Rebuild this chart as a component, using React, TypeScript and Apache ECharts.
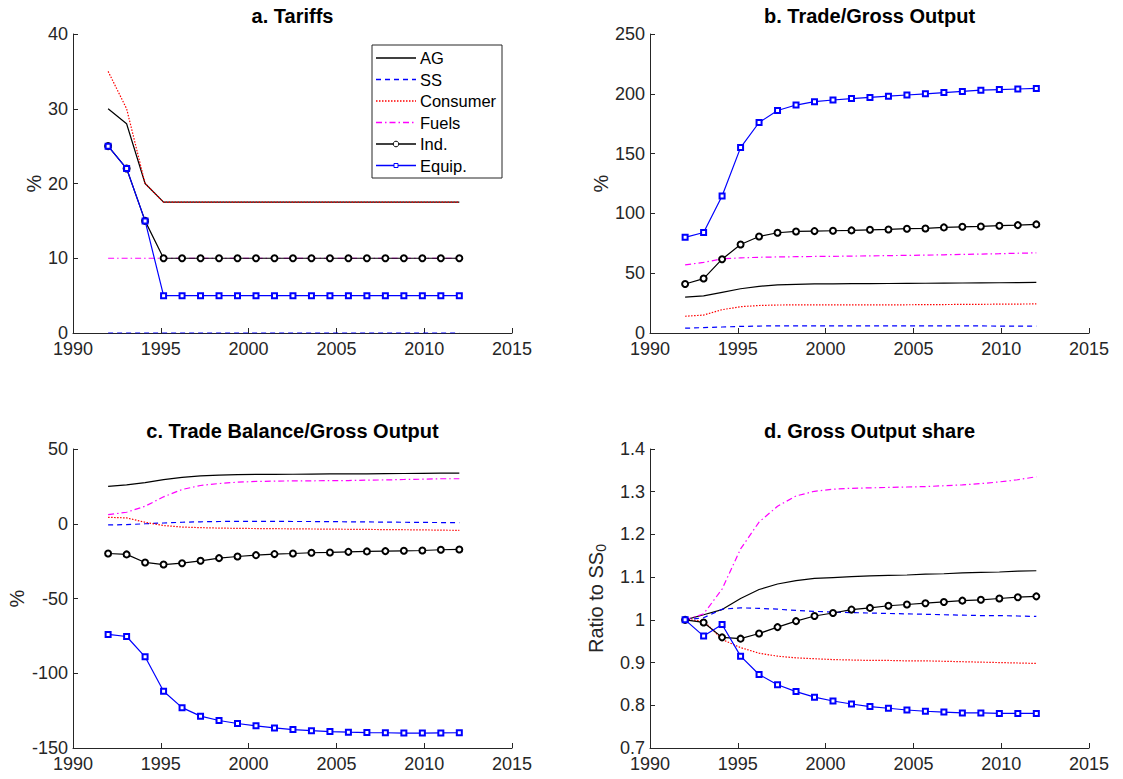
import React, { useEffect, useRef } from 'react';
import * as echarts from 'echarts';

// x positions of the 20 model periods (1992 .. 2012)
const years = [1992, 1993.053, 1994.105, 1995.158, 1996.211, 1997.263, 1998.316, 1999.368, 2000.421, 2001.474,
  2002.526, 2003.579, 2004.632, 2005.684, 2006.737, 2007.789, 2008.842, 2009.895, 2010.947, 2012];

const seriesNames = ['AG', 'SS', 'Consumer', 'Fuels', 'Ind.', 'Equip.'];

// a. Tariffs
const tariffAG = [30, 28, 20, 17.5, 17.5, 17.5, 17.5, 17.5, 17.5, 17.5, 17.5, 17.5, 17.5, 17.5, 17.5, 17.5, 17.5, 17.5, 17.5, 17.5];
const tariffSS = [0, 0, 0, 0, 0, 0, 0, 0, 0, 0, 0, 0, 0, 0, 0, 0, 0, 0, 0, 0];
const tariffConsumer = [35, 30, 20, 17.5, 17.5, 17.5, 17.5, 17.5, 17.5, 17.5, 17.5, 17.5, 17.5, 17.5, 17.5, 17.5, 17.5, 17.5, 17.5, 17.5];
const tariffFuels = [10, 10, 10, 10, 10, 10, 10, 10, 10, 10, 10, 10, 10, 10, 10, 10, 10, 10, 10, 10];
const tariffInd = [25, 22, 15, 10, 10, 10, 10, 10, 10, 10, 10, 10, 10, 10, 10, 10, 10, 10, 10, 10];
const tariffEquip = [25, 22, 15, 5, 5, 5, 5, 5, 5, 5, 5, 5, 5, 5, 5, 5, 5, 5, 5, 5];

// b. Trade/Gross Output
const tradeAG = [30, 31, 34, 37, 39, 40.2, 40.7, 41, 41.1, 41.2, 41.3, 41.4, 41.5, 41.6, 41.7, 41.8, 41.9, 42, 42.2, 42.4];
const tradeSS = [4, 4.5, 5, 5.5, 5.8, 6, 6, 6, 6, 6, 6, 6, 6, 5.9, 5.9, 5.9, 5.9, 5.8, 5.8, 5.8];
const tradeConsumer = [14, 15, 19.5, 22, 23, 23.4, 23.5, 23.5, 23.5, 23.5, 23.5, 23.5, 23.6, 23.7, 23.8, 23.9, 24, 24.1, 24.2, 24.3];
const tradeFuels = [57, 59, 62, 62.8, 63.3, 63.6, 63.8, 64, 64.1, 64.3, 64.5, 64.7, 64.9, 65.1, 65.4, 65.7, 66, 66.3, 66.7, 67];
const tradeInd = [41, 45.5, 61.7, 74, 80.7, 83.8, 84.9, 85.2, 85.5, 85.8, 86.3, 86.6, 87.2, 87.4, 88.3, 88.8, 89.1, 89.7, 90.2, 90.8];
const tradeEquip = [80, 84, 114.5, 155, 176, 186, 190.6, 193.4, 194.8, 196, 197, 198, 199, 200, 201, 202, 203, 203.5, 204, 204.5];

// c. Trade Balance/Gross Output
const balAG = [25, 26, 27.5, 29.5, 31, 32, 32.5, 32.8, 33, 33, 33.1, 33.2, 33.3, 33.3, 33.4, 33.5, 33.6, 33.7, 33.8, 33.9];
const balSS = [-0.8, -0.6, 0, 0.5, 1, 1.3, 1.5, 1.6, 1.6, 1.6, 1.5, 1.5, 1.4, 1.3, 1.2, 1.1, 1, 0.9, 0.8, 0.7];
const balConsumer = [4.3, 3.9, 1, -1.2, -2.2, -2.6, -2.9, -3.1, -3.2, -3.3, -3.4, -3.5, -3.6, -3.7, -3.8, -3.9, -4, -4.1, -4.3, -4.4];
const balFuels = [6.1, 7.7, 11.7, 18, 22.9, 25.6, 26.9, 27.8, 28.3, 28.5, 28.7, 28.7, 28.9, 28.9, 29.2, 29.3, 29.6, 29.8, 30.1, 30.1];
const balInd = [-19.9, -20.5, -25.9, -27.3, -26.4, -24.8, -23, -21.9, -21, -20.3, -19.9, -19.4, -19.2, -18.8, -18.5, -18.3, -18.1, -17.9, -17.4, -17.2];
const balEquip = [-74, -75.4, -89, -112, -123, -128.7, -131.6, -133.6, -135.2, -136.6, -137.7, -138.4, -139, -139.4, -139.7, -139.8, -140, -140, -139.9, -139.8];

// d. Gross Output share
const goAG = [1, 1.012, 1.024, 1.05, 1.071, 1.084, 1.092, 1.097, 1.099, 1.101, 1.103, 1.104, 1.105, 1.107, 1.108, 1.11, 1.111, 1.112, 1.114, 1.115];
const goSS = [1, 1.005, 1.025, 1.028, 1.027, 1.025, 1.022, 1.02, 1.018, 1.017, 1.016, 1.015, 1.014, 1.013, 1.012, 1.011, 1.01, 1.01, 1.009, 1.008];
const goConsumer = [1, 0.998, 0.954, 0.935, 0.922, 0.915, 0.911, 0.909, 0.907, 0.906, 0.905, 0.905, 0.904, 0.904, 0.903, 0.902, 0.901, 0.9, 0.899, 0.898];
const goFuels = [1, 1.014, 1.072, 1.166, 1.229, 1.266, 1.29, 1.301, 1.306, 1.308, 1.309, 1.31, 1.311, 1.312, 1.314, 1.316, 1.319, 1.323, 1.328, 1.335];
const goInd = [1, 0.994, 0.959, 0.956, 0.968, 0.983, 0.997, 1.009, 1.016, 1.024, 1.028, 1.033, 1.036, 1.039, 1.042, 1.045, 1.047, 1.05, 1.053, 1.055];
const goEquip = [1, 0.962, 0.989, 0.915, 0.872, 0.848, 0.832, 0.819, 0.81, 0.803, 0.797, 0.793, 0.789, 0.786, 0.784, 0.782, 0.782, 0.781, 0.781, 0.781];

const FONT = '"Liberation Sans", Arial, Helvetica, sans-serif';
const AXIS = '#262626';

const panels = [
  { title: 'a. Tariffs', left: 73, top: 34, min: 0, max: 40, interval: 10, yName: '%', nameGap: 27,
    data: [tariffAG, tariffSS, tariffConsumer, tariffFuels, tariffInd, tariffEquip] },
  { title: 'b. Trade/Gross Output', left: 650, top: 34, min: 0, max: 250, interval: 50, yName: '%', nameGap: 38,
    data: [tradeAG, tradeSS, tradeConsumer, tradeFuels, tradeInd, tradeEquip] },
  { title: 'c. Trade Balance/Gross Output', left: 73, top: 449, min: -150, max: 50, interval: 50, yName: '%', nameGap: 46,
    data: [balAG, balSS, balConsumer, balFuels, balInd, balEquip] },
  { title: 'd. Gross Output share', left: 650, top: 449, min: 0.7, max: 1.4, interval: 0.1, yName: 'Ratio to SS{sub|0}', nameGap: 42,
    data: [goAG, goSS, goConsumer, goFuels, goInd, goEquip] },
];

const GW = 439;
const GH = 299;

const styles = [
  { color: '#000000', type: 'solid' as any, dash: null as any, symbol: 'none', size: 0 },
  { color: '#0000ff', type: [5, 4], dash: [5, 4], symbol: 'none', size: 0 },
  { color: '#ff0000', type: [1.5, 1.5], dash: [1.5, 1.5], symbol: 'none', size: 0 },
  { color: '#ff00ff', type: [6, 3, 1.5, 3], dash: [6, 3, 1.5, 3], symbol: 'none', size: 0 },
  { color: '#000000', type: 'solid', dash: null, symbol: 'emptyCircle', size: 6 },
  { color: '#0000ff', type: 'solid', dash: null, symbol: 'emptyRect', size: 5 },
];

// legend box (drawn as graphic elements)
const LEG_X = 372;
const LEG_Y = 45;
const LEG_W = 130;
const LEG_H = 133;
const LEG_ROW = 21.5;

function buildLegend() {
  const children: any[] = [
    { type: 'rect', shape: { x: LEG_X, y: LEG_Y, width: LEG_W, height: LEG_H },
      style: { fill: '#ffffff', stroke: AXIS, lineWidth: 1 } },
  ];
  seriesNames.forEach((name, k) => {
    const st = styles[k];
    const cy = LEG_Y + 13 + k * LEG_ROW;
    children.push({
      type: 'line', shape: { x1: LEG_X + 4, y1: cy, x2: LEG_X + 44, y2: cy },
      style: { stroke: st.color, lineWidth: 1.3, lineDash: st.dash || undefined },
    });
    if (st.symbol === 'emptyCircle') {
      children.push({ type: 'circle', shape: { cx: LEG_X + 24, cy, r: 2.8 },
        style: { fill: '#ffffff', stroke: st.color, lineWidth: 1 } });
    } else if (st.symbol === 'emptyRect') {
      children.push({ type: 'rect', shape: { x: LEG_X + 22, y: cy - 2, width: 4, height: 4 },
        style: { fill: '#ffffff', stroke: st.color, lineWidth: 1 } });
    }
    children.push({
      type: 'text', x: LEG_X + 48, y: cy,
      style: { text: name, fontFamily: FONT, fontSize: 16.5, fill: '#000', verticalAlign: 'middle', align: 'left' },
    });
  });
  return { type: 'group', z: 100, silent: true, children };
}

function buildOption() {
  const title: any[] = [];
  const grid: any[] = [];
  const xAxis: any[] = [];
  const yAxis: any[] = [];
  const series: any[] = [];
  panels.forEach((p, i) => {
    title.push({
      text: p.title, left: p.left + GW / 2, top: p.top - 28, textAlign: 'center', padding: 0,
      textStyle: { fontFamily: FONT, fontSize: 20, fontWeight: 'bold', color: '#000' },
    });
    grid.push({ left: p.left, top: p.top, width: GW, height: GH, containLabel: false });
    xAxis.push({
      type: 'value', gridIndex: i, min: 1990, max: 2015, interval: 5,
      axisLine: { show: true, onZero: false, lineStyle: { color: AXIS, width: 1 } },
      axisTick: { show: true, inside: true, length: 5, lineStyle: { color: AXIS } },
      axisLabel: { fontFamily: FONT, fontSize: 18, color: AXIS, margin: 7, formatter: (v: number) => String(v) },
      splitLine: { show: false },
    });
    yAxis.push({
      type: 'value', gridIndex: i, min: p.min, max: p.max, interval: p.interval,
      name: p.yName, nameLocation: 'middle', nameGap: p.nameGap,
      nameTextStyle: {
        fontFamily: FONT, fontSize: 20, color: AXIS,
        rich: { sub: { fontFamily: FONT, fontSize: 14, color: AXIS, padding: [10, 0, 0, 0] } },
      },
      axisLine: { show: true, onZero: false, lineStyle: { color: AXIS, width: 1 } },
      axisTick: { show: true, inside: true, length: 5, lineStyle: { color: AXIS } },
      axisLabel: { fontFamily: FONT, fontSize: 18, color: AXIS, margin: 5 },
      splitLine: { show: false },
    });
    p.data.forEach((vals, k) => {
      const st = styles[k];
      series.push({
        type: 'line', name: seriesNames[k], xAxisIndex: i, yAxisIndex: i,
        data: years.map((x, j) => [x, vals[j]]),
        symbol: st.symbol, symbolSize: st.size, showSymbol: st.symbol !== 'none',
        lineStyle: { color: st.color, width: 1.2, type: st.type },
        itemStyle: { color: st.color, borderColor: st.color, borderWidth: 1 },
        emphasis: { disabled: true },
        z: 2 + k * 0.1,
      });
    });
  });
  return {
    animation: false,
    backgroundColor: '#ffffff',
    title,
    grid,
    xAxis,
    yAxis,
    series,
    graphic: [buildLegend()],
  };
}

export default function App() {
  const ref = useRef<HTMLDivElement>(null);
  useEffect(() => {
    if (!ref.current) return;
    const chart = echarts.init(ref.current, undefined, { renderer: 'svg' });
    chart.setOption(buildOption() as any);
    return () => chart.dispose();
  }, []);
  return (
    <div
      ref={ref}
      style={{ position: 'fixed', left: 0, top: 0, width: 1123, height: 779, background: '#fff' }}
    />
  );
}
